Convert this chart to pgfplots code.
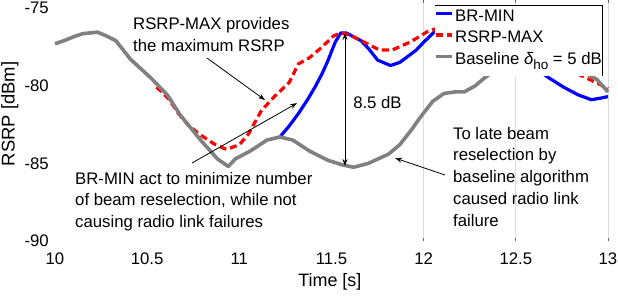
\documentclass[border=0pt]{standalone}
\usepackage{fontspec}
\setmainfont{Liberation Sans}
\usepackage{pgfplots}
\pgfplotsset{compat=1.18}
\usetikzlibrary{arrows.meta}

\definecolor{bgray}{RGB}{128,128,128}
\definecolor{gridgray}{RGB}{222,222,222}
\newcommand{\fs}{\fontsize{16.8}{22}\selectfont}

\begin{document}
\begin{tikzpicture}
\begin{axis}[
  scale only axis, width=553bp, height=241bp,
  xmin=10, xmax=13, ymin=-90, ymax=-74.48,
  clip=false,
  xtick={10,10.5,11,11.5,12,12.5,13},
  xticklabels={10,10.5,11,11.5,12,12.5,13},
  ytick={-90,-85,-80,-75},
  yticklabels={-90,-85,-80,-75},
  tick label style={font=\fs},
  xticklabel style={inner sep=0pt, anchor=north, yshift=-12bp},
  yticklabel style={inner sep=0pt, anchor=east, xshift=-6bp},
  axis line style={draw=none},
  major tick style={draw=none},
  extra x ticks={12,12.5,13}, extra x tick labels={},
  extra x tick style={grid=major,
     major grid style={draw=gridgray, line width=0.7bp},
     major tick style={draw=black!60, line width=0.7bp},
     major tick length=3bp},
  xlabel={Time [s]},
  xlabel style={at={(rel axis cs:0.497,-0.17)}, anchor=center, inner sep=0pt, font=\fontsize{18}{20}\selectfont},
  ylabel={RSRP [dBm]},
  ylabel style={at={(rel axis cs:-0.0814,0.527)}, anchor=center, inner sep=0pt, font=\fontsize{18.5}{20}\selectfont},
  legend cell align=left,
  legend image code/.code={\draw[#1, line cap=butt] (0bp,5.5bp) -- (16bp,5.5bp);},
  legend style={at={(rel axis cs:0.991,0.979)}, anchor=north east,
     fill=white, draw=none, inner xsep=0pt, inner ysep=3bp,
     font=\fs, row sep=0bp,
     nodes={inner xsep=1bp, inner ysep=0bp, text height=13bp, text depth=8.5bp},
     path picture={\draw[black, line width=1.4bp]
        (path picture bounding box.north west) -- (path picture bounding box.north east)
        -- (path picture bounding box.south east);}},
]
\addplot[blue, line width=3.2bp, line join=round] coordinates {
(11.22,-83.3) (11.27,-82.6) (11.32,-81.8) (11.37,-80.9) (11.41,-80.1)
(11.45,-79.2) (11.48,-78.4) (11.52,-77.2) (11.55,-76.6) (11.58,-76.6)
(11.62,-76.85) (11.66,-77.1) (11.70,-77.6) (11.75,-78.35) (11.82,-78.7)
(11.87,-78.5) (11.91,-78.15) (11.96,-77.7) (12.00,-77.2) (12.07,-76.4)
(12.20,-76.5) (12.35,-77.1) (12.50,-78.0) (12.62,-79.0) (12.68,-79.5)
(12.76,-80.1) (12.84,-80.6) (12.91,-80.9) (12.96,-80.8) (13.00,-80.7)
};
\addlegendentry{BR-MIN}
\addplot[red, line width=3.2bp, dash pattern=on 7bp off 4bp] coordinates {
(10.55,-80.1) (10.58,-80.4) (10.62,-80.9) (10.67,-81.8) (10.72,-82.5)
(10.78,-83.1) (10.87,-83.8) (10.93,-84.1) (11.00,-83.8) (11.05,-83.1)
(11.12,-81.6) (11.19,-80.7) (11.27,-79.8) (11.32,-78.6) (11.38,-78.2)
(11.45,-77.5) (11.51,-76.8) (11.55,-76.6) (11.60,-76.74) (11.69,-77.27)
(11.76,-77.7) (11.83,-77.7) (11.93,-77.17) (12.02,-76.52) (12.07,-76.31)
(12.15,-76.3) (12.30,-76.8) (12.50,-77.5) (12.70,-78.5) (12.90,-79.6)
(12.97,-80.0) (13.00,-80.2)
};
\addlegendentry{RSRP-MAX}
\addplot[bgray, line width=3.6bp, line join=round] coordinates {
(10.00,-77.30) (10.06,-77.05) (10.10,-76.85) (10.15,-76.65) (10.23,-76.55)
(10.28,-76.80) (10.33,-77.10) (10.41,-78.30) (10.52,-79.50) (10.61,-80.60)
(10.68,-81.90) (10.79,-83.50) (10.88,-84.70) (10.94,-85.20) (10.98,-84.70)
(11.06,-84.20) (11.15,-83.50) (11.22,-83.30) (11.29,-83.50) (11.38,-84.20)
(11.48,-84.80) (11.56,-85.10) (11.62,-85.25) (11.70,-85.00) (11.81,-84.40)
(11.87,-83.80) (11.93,-82.90) (11.99,-81.90) (12.05,-81.00) (12.11,-80.50)
(12.17,-80.40) (12.22,-80.40) (12.28,-80.00) (12.33,-79.50) (12.40,-78.90)
(12.50,-78.20) (12.60,-77.90) (12.70,-78.20) (12.80,-78.70) (12.88,-79.20)
(12.94,-79.60) (13.00,-80.40)
};
\addlegendentry{Baseline {\itshape δ}\raisebox{-5bp}{\fontsize{13.5}{14}\selectfont ho} = 5 dB}

\node[anchor=north west, inner sep=0pt, align=left, font=\fs] at (axis cs:10.423,-75.58)
  {RSRP-MAX provides\\the maximum RSRP};
\node[anchor=north west, inner sep=0pt, align=left, font=\fs] at (axis cs:10.1085,-85.54)
  {BR-MIN act to minimize number\\of beam reselection, while not\\causing radio link failures};
\node[anchor=west, inner sep=0pt, font=\fs] at (axis cs:11.617,-81.05) {8.5 dB};
\node[anchor=north west, inner sep=0pt, align=left, font=\fs] at (axis cs:12.159,-82.64)
  {To late beam\\reselection by\\baseline algorithm\\caused radio link\\failure};

\draw[-{Stealth[length=7bp,width=5bp]}, line width=0.8bp] (axis cs:10.825,-78.22) -- (axis cs:11.139,-80.92);
\draw[-{Stealth[length=7bp,width=5bp]}, line width=0.8bp] (axis cs:10.743,-84.98) -- (axis cs:11.313,-81.12);
\draw[{Stealth[length=7bp,width=5bp]}-{Stealth[length=7bp,width=5bp]}, line width=0.8bp] (axis cs:11.573,-76.61) -- (axis cs:11.573,-85.17);
\draw[-{Stealth[length=7bp,width=5bp]}, line width=0.8bp] (axis cs:12.116,-85.75) -- (axis cs:11.845,-84.66);
\end{axis}
\pgfresetboundingbox
\path[use as bounding box] ([shift={(-55bp,-55bp)}]current axis.south west) rectangle ([shift={(10bp,0bp)}]current axis.north east);
\end{tikzpicture}
\end{document}
